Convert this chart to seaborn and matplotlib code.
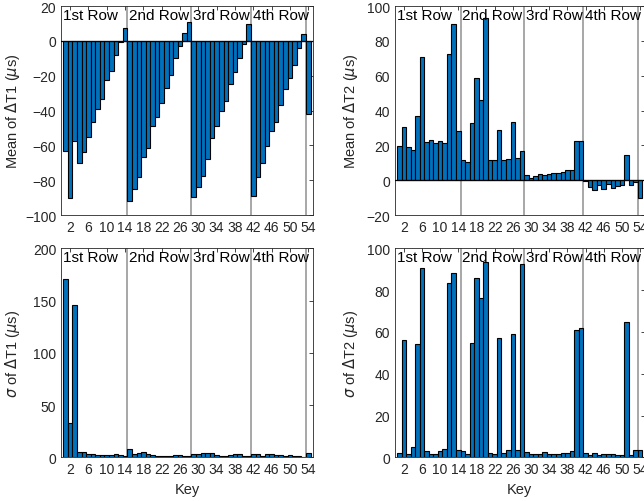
import numpy as np
import pandas as pd
import seaborn as sns
import matplotlib
matplotlib.use('Agg')
import matplotlib.pyplot as plt
import matplotlib.transforms as mtransforms

sns.set_style('white')
plt.rcParams['font.family'] = ['Liberation Sans', 'DejaVu Sans']
plt.rcParams['mathtext.fontset'] = 'dejavusans'
plt.rcParams['xtick.direction'] = 'in'
plt.rcParams['ytick.direction'] = 'in'
plt.rcParams['xtick.top'] = True
plt.rcParams['ytick.right'] = True

keys = list(range(1, 55))

mean_dt1 = [-63.2, -90.5, -57.4, -70.2, -64.1, -55.0, -46.6, -38.9, -33.2, -22.5, -17.2, -8.0, -0.6, 7.4,
            -92.2, -85.3, -77.9, -66.6, -61.3, -48.9, -43.5, -35.9, -27.1, -19.8, -9.7, -3.0, 4.6, 10.9,
            -89.9, -83.8, -77.5, -68.1, -55.5, -48.9, -40.3, -34.7, -25.0, -17.6, -9.7, -1.7, 9.4,
            -89.3, -77.9, -70.2, -60.5, -51.7, -46.6, -37.0, -27.9, -21.6, -13.7, -4.0, 4.2,
            -42.2]

mean_dt2 = [19.7, 30.4, 19.3, 17.6, 37.1, 70.7, 22.2, 23.3, 21.2, 22.7, 21.6, 72.6, 89.8, 28.1,
            11.8, 10.7, 32.9, 58.9, 46.1, 93.3, 11.8, 11.5, 29.0, 11.5, 12.2, 33.6, 13.0, 17.0,
            2.7, 1.5, 2.5, 3.6, 2.9, 3.6, 4.4, 4.0, 4.6, 5.9, 5.9, 22.7, 22.4,
            -0.6, -3.8, -5.5, -2.5, -4.8, -2.3, -4.4, -3.2, -2.7, 14.5, -2.5, -1.1,
            -10.3]

std_dt1 = [171.0, 32.8, 146.0, 4.8, 5.1, 2.9, 2.9, 1.9, 2.5, 2.5, 1.9, 2.9, 1.9, 1.3,
           7.6, 3.5, 3.8, 4.8, 2.9, 1.9, 1.6, 1.6, 1.6, 1.6, 2.2, 2.2, 1.6, 1.0,
           3.2, 2.9, 3.8, 3.8, 3.8, 2.2, 1.6, 1.6, 2.2, 2.9, 2.9, 1.6, 1.0,
           3.5, 3.5, 1.6, 2.9, 2.9, 2.2, 2.2, 1.6, 2.5, 1.6, 1.3, 0.6,
           3.8]

std_dt2 = [1.9, 56.0, 1.6, 4.8, 54.0, 90.4, 3.0, 1.4, 1.6, 3.0, 4.0, 83.3, 88.4, 3.3,
           3.0, 1.6, 54.5, 86.0, 76.1, 93.5, 1.9, 1.4, 57.0, 1.9, 3.5, 58.8, 3.5, 92.4,
           2.4, 1.6, 1.6, 1.6, 2.4, 1.4, 1.4, 1.8, 1.9, 1.9, 2.9, 61.1, 62.1,
           2.1, 1.3, 1.9, 1.3, 1.4, 1.6, 1.6, 1.3, 1.3, 64.8, 1.3, 3.7,
           3.7]

row_names = ['1st Row', '2nd Row', '3rd Row', '4th Row']
row_bounds = [14.5, 28.5, 41.5, 53.5]
row_starts = [0.0, 14.5, 28.5, 41.5]

panels = [
    (mean_dt1, r'Mean of $\Delta$T1 ($\mu$s)', (-100, 20), np.arange(-100, 21, 20), [0.0947, 0.5697, 0.391, 0.4163], -0.155),
    (mean_dt2, r'Mean of $\Delta$T2 ($\mu$s)', (-20, 100), np.arange(-20, 101, 20), [0.6129, 0.5697, 0.388, 0.4163], -0.139),
    (std_dt1, r'$\sigma$ of $\Delta$T1 ($\mu$s)', (0, 200), np.arange(0, 201, 50), [0.0947, 0.0870, 0.391, 0.4163], -0.155),
    (std_dt2, r'$\sigma$ of $\Delta$T2 ($\mu$s)', (0, 100), np.arange(0, 101, 20), [0.6129, 0.0870, 0.388, 0.4163], -0.139),
]

fig = plt.figure(figsize=(6.44, 5.02), dpi=100)
dark = '#262626'

for i, (vals, ylab, ylim, yticks, pos, ylab_x) in enumerate(panels):
    ax = fig.add_axes(pos)
    df = pd.DataFrame({'key': keys, 'val': vals})
    sns.barplot(data=df, x='key', y='val', native_scale=True, width=1.0,
                color='#0072BD', saturation=1, edgecolor='black', linewidth=0.8, ax=ax)
    for b in row_bounds:
        ax.axvline(b, color='#a0a0a0', lw=1.3, zorder=0.5)
    if ylim[0] < 0:
        ax.axhline(0, color='black', lw=0.9, zorder=3)
    trans = mtransforms.blended_transform_factory(ax.transData, ax.transAxes)
    for name, s in zip(row_names, row_starts):
        ax.text(s + 0.4, 0.99, name, transform=trans, ha='left', va='top',
                fontsize=11, color='black')
    ax.set_xlim(0, 55)
    ax.set_ylim(*ylim)
    ax.set_yticks(yticks)
    ax.set_xticks(range(2, 55, 4))
    ax.set_xticklabels([str(k) for k in range(2, 55, 4)])
    ax.set_ylabel(ylab, fontsize=10.5, color=dark)
    ax.yaxis.set_label_coords(ylab_x, 0.5)
    ax.set_xlabel('Key' if i >= 2 else '', fontsize=10.5, color=dark)
    ax.tick_params(labelsize=10, colors=dark, length=3, width=0.6)
    for sp in ax.spines.values():
        sp.set_color(dark)
        sp.set_linewidth(0.6)

fig.savefig('out.png', dpi=100)
